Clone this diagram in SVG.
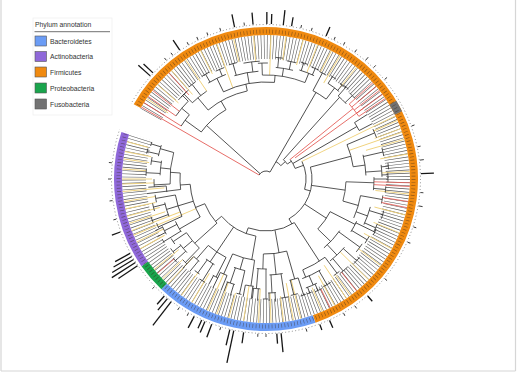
<svg xmlns="http://www.w3.org/2000/svg" width="518" height="373" viewBox="0 0 518 373">
<style>
.t line,.t circle{fill:none;stroke:#2b2b2b;stroke-width:.75}
.t .r{stroke:#e2504a}
.t .y{stroke:#f0d27c;stroke-width:.9}
.lg text{font-family:"Liberation Sans",Arial,sans-serif;font-size:6.8px;fill:#333}
.bars line{stroke:#151515;stroke-width:1.3}
.dots line{stroke:#333;stroke-width:.9}
.sw{stroke:#555;stroke-width:.6}
</style>
<rect width="518" height="373" fill="#fff"/>
<g id="frame" stroke="#d6d6d6" stroke-width="1.2" fill="none">
<line x1="1" y1="0" x2="1" y2="371"/><line x1="515.5" y1="0" x2="515.5" y2="371"/><line x1="1" y1="371" x2="515.5" y2="371"/>
</g>
<g id="rings" transform="translate(266,179)" fill="none">
<circle r="132" stroke="#3a3a3a" stroke-width="24" pathLength="360" stroke-dasharray="0.26 1.04" opacity=".85"/>
<circle r="148" stroke="#f08a10" stroke-width="8" pathLength="360" stroke-dasharray="221.5 720" transform="rotate(209.5)"/>
<circle r="148" stroke="#727272" stroke-width="8" pathLength="360" stroke-dasharray="4.5 720" transform="rotate(329)"/>
<circle r="148" stroke="#6b9cf5" stroke-width="8" pathLength="360" stroke-dasharray="62.5 720" transform="rotate(71)"/>
<circle r="148" stroke="#19a44c" stroke-width="8" pathLength="360" stroke-dasharray="11.5 720" transform="rotate(133.5)"/>
<circle r="148" stroke="#8f68d9" stroke-width="8" pathLength="360" stroke-dasharray="53 720" transform="rotate(145)"/>
<circle r="147.5" stroke="#3b2a1c" stroke-width="4" pathLength="360" stroke-dasharray="0.25 1" opacity=".55"/>
<circle r="154.5" stroke="#666" stroke-width=".8" pathLength="360" stroke-dasharray="0.35 0.9"/>
<circle r="137" stroke="#fff" stroke-width="42" pathLength="360" stroke-dasharray="10.6 720" transform="rotate(198.6)"/>
</g>
<g id="tree" class="t" transform="translate(266,179)">
<line class="y" x1="118" x2="144" transform="rotate(214)"/><line class="y" x1="116" x2="144" transform="rotate(221)"/><line class="y" x1="112" x2="144" transform="rotate(229)"/><line class="y" x1="106" x2="144" transform="rotate(236)"/><line class="y" x1="118" x2="144" transform="rotate(243)"/><line class="y" x1="97" x2="144" transform="rotate(250)"/><line class="y" x1="120" x2="144" transform="rotate(257)"/><line class="y" x1="118" x2="144" transform="rotate(265)"/><line class="y" x1="104" x2="144" transform="rotate(272)"/><line class="y" x1="120" x2="144" transform="rotate(278)"/><line class="y" x1="118" x2="144" transform="rotate(285)"/><line class="y" x1="114" x2="144" transform="rotate(291)"/><line class="y" x1="120" x2="144" transform="rotate(297)"/><line class="y" x1="112" x2="144" transform="rotate(301)"/><line class="y" x1="118" x2="144" transform="rotate(309)"/>
<line class="y" x1="40" x2="144" transform="rotate(334)"/><line class="y" x1="118" x2="144" transform="rotate(336)"/><line class="y" x1="116" x2="144" transform="rotate(339.5)"/><line class="y" x1="88" x2="144" transform="rotate(341)"/><line class="y" x1="104" x2="144" transform="rotate(344)"/><line class="y" x1="116" x2="144" transform="rotate(350)"/><line class="y" x1="116" x2="144" transform="rotate(357)"/><line class="y" x1="110" x2="144" transform="rotate(6)"/><line class="y" x1="112" x2="144" transform="rotate(14.5)"/><line class="y" x1="116" x2="144" transform="rotate(22)"/><line class="y" x1="112" x2="144" transform="rotate(29)"/><line class="y" x1="116" x2="144" transform="rotate(37)"/><line class="y" x1="104" x2="144" transform="rotate(44.5)"/><line class="y" x1="118" x2="144" transform="rotate(54)"/><line class="y" x1="104" x2="144" transform="rotate(56)"/><line class="y" x1="110" x2="144" transform="rotate(61.5)"/><line class="y" x1="118" x2="144" transform="rotate(67)"/>
<line class="y" x1="104" x2="144" transform="rotate(76)"/><line class="y" x1="106" x2="144" transform="rotate(79)"/><line class="y" x1="118" x2="144" transform="rotate(83)"/><line class="y" x1="114" x2="144" transform="rotate(88)"/><line class="y" x1="110" x2="144" transform="rotate(93)"/><line class="y" x1="108" x2="144" transform="rotate(99)"/><line class="y" x1="118" x2="144" transform="rotate(105)"/><line class="y" x1="110" x2="144" transform="rotate(110)"/><line class="y" x1="104" x2="144" transform="rotate(114)"/><line class="y" x1="110" x2="144" transform="rotate(121)"/><line class="y" x1="116" x2="144" transform="rotate(126)"/><line class="y" x1="106" x2="144" transform="rotate(133)"/><line class="y" x1="116" x2="144" transform="rotate(136)"/><line class="y" x1="112" x2="144" transform="rotate(141)"/>
<line class="y" x1="116" x2="144" transform="rotate(151)"/><line class="y" x1="114" x2="144" transform="rotate(154)"/><line class="y" x1="76" x2="144" transform="rotate(157)"/><line class="y" x1="92" x2="144" transform="rotate(159)"/><line class="y" x1="106" x2="144" transform="rotate(162)"/><line class="y" x1="110" x2="144" transform="rotate(165)"/><line class="y" x1="113" x2="144" transform="rotate(168)"/><line class="y" x1="112" x2="144" transform="rotate(171)"/><line class="y" x1="102" x2="144" transform="rotate(175)"/><line class="y" x1="112" x2="144" transform="rotate(178)"/><line class="y" x1="114" x2="144" transform="rotate(180)"/><line class="y" x1="120" x2="144" transform="rotate(184)"/><line class="y" x1="118" x2="144" transform="rotate(188)"/><line class="y" x1="117" x2="144" transform="rotate(191)"/><line class="y" x1="122" x2="144" transform="rotate(195)"/>
<circle r="8" pathLength="360" stroke-dasharray="90 720" transform="rotate(210)"/>
<line class="r" x1="8" x2="144" transform="rotate(210)"/>
<line x1="8" x2="80" transform="rotate(222)"/>
<line x1="8" x2="100" transform="rotate(300)"/>
<circle r="80" pathLength="360" stroke-dasharray="24 720" transform="rotate(216)"/>
<line x1="80" x2="100" transform="rotate(216)"/><circle r="100" pathLength="360" stroke-dasharray="8 720" transform="rotate(212)"/>
<line class="r" x1="100" x2="144" transform="rotate(212)"/>
<line x1="100" x2="110" transform="rotate(220)"/><circle r="110" pathLength="360" stroke-dasharray="10 720" transform="rotate(215)"/>
<line class="r" x1="110" x2="144" transform="rotate(215)"/><line class="r" x1="110" x2="144" transform="rotate(218)"/>
<line x1="110" x2="118" transform="rotate(225)"/><circle r="118" pathLength="360" stroke-dasharray="6 720" transform="rotate(222)"/>
<line x1="80" x2="90" transform="rotate(240)"/><circle r="90" pathLength="360" stroke-dasharray="28 720" transform="rotate(230)"/>
<line x1="90" x2="106" transform="rotate(230)"/><circle r="106" pathLength="360" stroke-dasharray="10 720" transform="rotate(226)"/>
<line x1="106" x2="118" transform="rotate(226)"/><circle r="118" pathLength="360" stroke-dasharray="5 720" transform="rotate(224)"/>
<line class="r" x1="114" x2="144" transform="rotate(227.5)"/>
<line x1="106" x2="120" transform="rotate(232)"/><circle r="120" pathLength="360" stroke-dasharray="4 720" transform="rotate(230)"/>
<line x1="90" x2="97" transform="rotate(258)"/><circle r="97" pathLength="360" stroke-dasharray="31 720" transform="rotate(244)"/>
<line x1="97" x2="112" transform="rotate(244)"/><circle r="112" pathLength="360" stroke-dasharray="10 720" transform="rotate(239)"/>
<line x1="112" x2="121" transform="rotate(240)"/><circle r="121" pathLength="360" stroke-dasharray="4 720" transform="rotate(238)"/>
<line x1="112" x2="119" transform="rotate(247)"/><circle r="119" pathLength="360" stroke-dasharray="4.5 720" transform="rotate(245)"/>
<line x1="97" x2="108" transform="rotate(260)"/><circle r="108" pathLength="360" stroke-dasharray="13 720" transform="rotate(253)"/>
<line x1="108" x2="120" transform="rotate(254)"/><circle r="120" pathLength="360" stroke-dasharray="4 720" transform="rotate(252)"/>
<line x1="108" x2="118" transform="rotate(263)"/><circle r="118" pathLength="360" stroke-dasharray="8 720" transform="rotate(259)"/>
<line x1="97" x2="104" transform="rotate(275)"/><circle r="104" pathLength="360" stroke-dasharray="24 720" transform="rotate(268)"/>
<line x1="104" x2="116" transform="rotate(268)"/><circle r="116" pathLength="360" stroke-dasharray="5 720" transform="rotate(266)"/>
<line x1="104" x2="112" transform="rotate(279)"/><circle r="112" pathLength="360" stroke-dasharray="9 720" transform="rotate(275)"/>
<line x1="112" x2="122" transform="rotate(276)"/><circle r="122" pathLength="360" stroke-dasharray="3.5 720" transform="rotate(274.5)"/>
<line x1="112" x2="120" transform="rotate(282)"/><circle r="120" pathLength="360" stroke-dasharray="4.5 720" transform="rotate(280)"/>
<line x1="104" x2="114" transform="rotate(292)"/><circle r="114" pathLength="360" stroke-dasharray="8 720" transform="rotate(287)"/>
<line x1="114" x2="122" transform="rotate(288)"/><circle r="122" pathLength="360" stroke-dasharray="3.5 720" transform="rotate(286.5)"/>
<line x1="114" x2="121" transform="rotate(294)"/><circle r="121" pathLength="360" stroke-dasharray="4 720" transform="rotate(292)"/>
<circle r="20" pathLength="360" stroke-dasharray="18 720" transform="rotate(300)"/>
<circle r="100" pathLength="360" stroke-dasharray="9 720" transform="rotate(298)"/>
<line x1="100" x2="120" transform="rotate(298)"/><circle r="120" pathLength="360" stroke-dasharray="3.5 720" transform="rotate(296.5)"/>
<line x1="100" x2="114" transform="rotate(307)"/><circle r="114" pathLength="360" stroke-dasharray="7 720" transform="rotate(303)"/>
<line x1="114" x2="122" transform="rotate(303)"/><circle r="122" pathLength="360" stroke-dasharray="3 720" transform="rotate(302)"/>
<line x1="114" x2="121" transform="rotate(309)"/><circle r="121" pathLength="360" stroke-dasharray="3.5 720" transform="rotate(307.5)"/>
<line x1="20" x2="26" transform="rotate(318)"/><circle r="26" pathLength="360" stroke-dasharray="13 720" transform="rotate(312)"/>
<line x1="26" x2="110" transform="rotate(312)"/><circle r="110" pathLength="360" stroke-dasharray="6 720" transform="rotate(311)"/>
<line x1="110" x2="122" transform="rotate(311)"/><circle r="122" pathLength="360" stroke-dasharray="2.5 720" transform="rotate(310)"/>
<line x1="110" x2="120" transform="rotate(316)"/><circle r="120" pathLength="360" stroke-dasharray="4 720" transform="rotate(314)"/>
<line x1="26" x2="31" transform="rotate(325)"/><circle r="31" pathLength="360" stroke-dasharray="19 720" transform="rotate(321)"/>
<line class="r" x1="31" x2="112" transform="rotate(321)"/><circle class="r" r="112" pathLength="360" stroke-dasharray="8 720" transform="rotate(318)"/>
<line class="r" x1="36" x2="120" transform="rotate(324)"/>
<line class="r" x1="112" x2="144" transform="rotate(318)"/><line class="r" x1="112" x2="144" transform="rotate(320)"/><line class="r" x1="112" x2="144" transform="rotate(322)"/><line class="r" x1="112" x2="144" transform="rotate(324)"/><line class="r" x1="112" x2="144" transform="rotate(326)"/>
<line x1="31" x2="105" transform="rotate(330)"/><circle r="105" pathLength="360" stroke-dasharray="5 720" transform="rotate(327.5)"/>
<line x1="105" x2="120" transform="rotate(327.5)"/><line x1="105" x2="120" transform="rotate(332.5)"/>
<line x1="31" x2="40" transform="rotate(340)"/>
<circle r="40" pathLength="360" stroke-dasharray="41 720" transform="rotate(334)"/>
<line x1="40" x2="46" transform="rotate(15)"/>
<circle r="46" pathLength="360" stroke-dasharray="75 720" transform="rotate(345)"/>
<line x1="46" x2="88" transform="rotate(345)"/><circle r="88" pathLength="360" stroke-dasharray="15 720" transform="rotate(337)"/>
<line x1="88" x2="118" transform="rotate(337)"/><circle r="118" pathLength="360" stroke-dasharray="4.5 720" transform="rotate(335)"/>
<line x1="88" x2="100" transform="rotate(352)"/><circle r="100" pathLength="360" stroke-dasharray="12 720" transform="rotate(346)"/>
<line x1="100" x2="120" transform="rotate(347)"/><circle r="120" pathLength="360" stroke-dasharray="4 720" transform="rotate(345)"/>
<line x1="100" x2="116" transform="rotate(356)"/><circle r="116" pathLength="360" stroke-dasharray="6 720" transform="rotate(353)"/>
<line x1="116" x2="123" transform="rotate(354)"/><circle r="123" pathLength="360" stroke-dasharray="3 720" transform="rotate(352.5)"/>
<line x1="116" x2="122" transform="rotate(358)"/><circle r="122" pathLength="360" stroke-dasharray="2.5 720" transform="rotate(357)"/>
<line x1="46" x2="80" transform="rotate(8)"/><circle r="80" pathLength="360" stroke-dasharray="14 720" transform="rotate(2)"/>
<line x1="80" x2="108" transform="rotate(2)"/><circle r="108" pathLength="360" stroke-dasharray="7 720" transform="rotate(359)"/>
<line x1="108" x2="122" transform="rotate(0)"/><circle r="122" pathLength="360" stroke-dasharray="2.5 720" transform="rotate(359)"/>
<line x1="108" x2="120" transform="rotate(365)"/><circle r="120" pathLength="360" stroke-dasharray="3 720" transform="rotate(363.5)"/>
<line class="r" x1="108" x2="144" transform="rotate(1.5)"/><line class="r" x1="108" x2="144" transform="rotate(3)"/>
<line x1="80" x2="96" transform="rotate(16)"/><circle r="96" pathLength="360" stroke-dasharray="14 720" transform="rotate(10)"/>
<line x1="96" x2="118" transform="rotate(10)"/><circle r="118" pathLength="360" stroke-dasharray="4 720" transform="rotate(8)"/>
<line class="r" x1="118" x2="144" transform="rotate(9)"/><line class="r" x1="118" x2="144" transform="rotate(11.5)"/>
<line x1="96" x2="108" transform="rotate(20)"/><circle r="108" pathLength="360" stroke-dasharray="10 720" transform="rotate(15)"/>
<line x1="108" x2="122" transform="rotate(17)"/><circle r="122" pathLength="360" stroke-dasharray="4 720" transform="rotate(15)"/>
<line x1="108" x2="120" transform="rotate(24)"/><circle r="120" pathLength="360" stroke-dasharray="4 720" transform="rotate(22)"/>
<line x1="46" x2="72" transform="rotate(33)"/><circle r="72" pathLength="360" stroke-dasharray="17 720" transform="rotate(27)"/>
<line x1="72" x2="100" transform="rotate(27)"/><circle r="100" pathLength="360" stroke-dasharray="7 720" transform="rotate(25)"/>
<line x1="100" x2="121" transform="rotate(26)"/><circle r="121" pathLength="360" stroke-dasharray="3 720" transform="rotate(24.5)"/>
<line x1="100" x2="118" transform="rotate(31)"/><circle r="118" pathLength="360" stroke-dasharray="4 720" transform="rotate(29)"/>
<line x1="72" x2="90" transform="rotate(44)"/><circle r="90" pathLength="360" stroke-dasharray="15 720" transform="rotate(35)"/>
<line x1="90" x2="116" transform="rotate(36)"/><circle r="116" pathLength="360" stroke-dasharray="5 720" transform="rotate(34)"/>
<line x1="90" x2="104" transform="rotate(47)"/><circle r="104" pathLength="360" stroke-dasharray="11 720" transform="rotate(41)"/>
<line x1="104" x2="122" transform="rotate(42)"/><circle r="122" pathLength="360" stroke-dasharray="4 720" transform="rotate(40)"/>
<line x1="104" x2="120" transform="rotate(50)"/><circle r="120" pathLength="360" stroke-dasharray="5 720" transform="rotate(47)"/>
<line class="r" x1="120" x2="144" transform="rotate(51)"/>
<line x1="46" x2="52" transform="rotate(60)"/>
<circle r="52" pathLength="360" stroke-dasharray="53 720" transform="rotate(57)"/>
<line x1="52" x2="98" transform="rotate(57)"/><circle r="98" pathLength="360" stroke-dasharray="15 720" transform="rotate(53)"/>
<line x1="98" x2="118" transform="rotate(53)"/><circle r="118" pathLength="360" stroke-dasharray="3.5 720" transform="rotate(51.5)"/>
<line x1="98" x2="106" transform="rotate(68)"/><circle r="106" pathLength="360" stroke-dasharray="11 720" transform="rotate(59)"/>
<line x1="106" x2="122" transform="rotate(60)"/><circle r="122" pathLength="360" stroke-dasharray="4 720" transform="rotate(58)"/>
<line x1="106" x2="116" transform="rotate(66)"/><circle r="116" pathLength="360" stroke-dasharray="6 720" transform="rotate(64)"/>
<line x1="116" x2="123" transform="rotate(65)"/><circle r="123" pathLength="360" stroke-dasharray="3.5 720" transform="rotate(63)"/>
<line x1="116" x2="122" transform="rotate(69)"/><circle r="122" pathLength="360" stroke-dasharray="2.5 720" transform="rotate(68)"/>
<line class="r" x1="123" x2="144" transform="rotate(63.5)"/>
<line x1="52" x2="75" transform="rotate(80)"/><circle r="75" pathLength="360" stroke-dasharray="18 720" transform="rotate(74)"/>
<line x1="75" x2="104" transform="rotate(74)"/><circle r="104" pathLength="360" stroke-dasharray="5 720" transform="rotate(72)"/>
<line x1="104" x2="122" transform="rotate(72)"/><circle r="122" pathLength="360" stroke-dasharray="2.5 720" transform="rotate(71)"/>
<line x1="104" x2="119" transform="rotate(76.5)"/><circle r="119" pathLength="360" stroke-dasharray="3.5 720" transform="rotate(74.5)"/>
<line x1="75" x2="96" transform="rotate(84)"/><circle r="96" pathLength="360" stroke-dasharray="8 720" transform="rotate(80)"/>
<line x1="96" x2="120" transform="rotate(81)"/><circle r="120" pathLength="360" stroke-dasharray="4 720" transform="rotate(79)"/>
<line x1="96" x2="114" transform="rotate(87)"/><circle r="114" pathLength="360" stroke-dasharray="4 720" transform="rotate(85)"/>
<line x1="114" x2="123" transform="rotate(85.5)"/><line x1="114" x2="122" transform="rotate(88.5)"/>
<line x1="75" x2="90" transform="rotate(92)"/><circle r="90" pathLength="360" stroke-dasharray="6.5 720" transform="rotate(89.5)"/>
<line x1="90" x2="120" transform="rotate(90)"/><circle r="120" pathLength="360" stroke-dasharray="2.5 720" transform="rotate(89)"/>
<line x1="90" x2="110" transform="rotate(95)"/><circle r="110" pathLength="360" stroke-dasharray="4 720" transform="rotate(93)"/>
<line x1="110" x2="122" transform="rotate(94)"/><line x1="110" x2="120" transform="rotate(96.5)"/>
<line x1="52" x2="58" transform="rotate(110)"/>
<circle r="58" pathLength="360" stroke-dasharray="40 720" transform="rotate(100)"/>
<line x1="58" x2="82" transform="rotate(100)"/><circle r="82" pathLength="360" stroke-dasharray="16 720" transform="rotate(98)"/>
<line x1="82" x2="108" transform="rotate(98)"/><circle r="108" pathLength="360" stroke-dasharray="4.5 720" transform="rotate(96.5)"/>
<line x1="108" x2="121" transform="rotate(97)"/><line x1="108" x2="120" transform="rotate(101)"/>
<line x1="82" x2="94" transform="rotate(106)"/><circle r="94" pathLength="360" stroke-dasharray="7 720" transform="rotate(103)"/>
<line x1="94" x2="118" transform="rotate(103)"/><circle r="118" pathLength="360" stroke-dasharray="2.5 720" transform="rotate(102)"/>
<line x1="94" x2="110" transform="rotate(109)"/><circle r="110" pathLength="360" stroke-dasharray="4.5 720" transform="rotate(106.5)"/>
<line x1="110" x2="122" transform="rotate(107)"/><line x1="110" x2="120" transform="rotate(110.5)"/>
<line x1="82" x2="104" transform="rotate(114)"/><circle r="104" pathLength="360" stroke-dasharray="4 720" transform="rotate(112)"/>
<line x1="104" x2="120" transform="rotate(112)"/><line x1="104" x2="121" transform="rotate(116)"/>
<line x1="58" x2="88" transform="rotate(124)"/><circle r="88" pathLength="360" stroke-dasharray="14 720" transform="rotate(117)"/>
<line x1="88" x2="110" transform="rotate(117)"/><circle r="110" pathLength="360" stroke-dasharray="3 720" transform="rotate(116)"/>
<line x1="110" x2="120" transform="rotate(118.5)"/>
<line x1="88" x2="100" transform="rotate(124)"/><circle r="100" pathLength="360" stroke-dasharray="6 720" transform="rotate(121)"/>
<line x1="100" x2="120" transform="rotate(122)"/><circle r="120" pathLength="360" stroke-dasharray="3 720" transform="rotate(120.5)"/>
<line x1="100" x2="116" transform="rotate(126)"/><circle r="116" pathLength="360" stroke-dasharray="3 720" transform="rotate(125)"/>
<line x1="88" x2="106" transform="rotate(131)"/><circle r="106" pathLength="360" stroke-dasharray="4 720" transform="rotate(129)"/>
<line x1="106" x2="120" transform="rotate(129.5)"/><line x1="106" x2="122" transform="rotate(133)"/>
<line x1="58" x2="66" transform="rotate(140)"/>
<circle r="66" pathLength="360" stroke-dasharray="20 720" transform="rotate(138)"/>
<line x1="66" x2="96" transform="rotate(138)"/><circle r="96" pathLength="360" stroke-dasharray="12 720" transform="rotate(134)"/>
<line x1="96" x2="116" transform="rotate(134)"/><circle r="116" pathLength="360" stroke-dasharray="3 720" transform="rotate(133)"/>
<line x1="96" x2="108" transform="rotate(140)"/><circle r="108" pathLength="360" stroke-dasharray="6 720" transform="rotate(137)"/>
<line x1="108" x2="122" transform="rotate(138)"/><circle r="122" pathLength="360" stroke-dasharray="2.5 720" transform="rotate(137)"/>
<line class="r" x1="122" x2="144" transform="rotate(139)"/>
<line x1="108" x2="118" transform="rotate(142)"/><circle r="118" pathLength="360" stroke-dasharray="3 720" transform="rotate(141)"/>
<line x1="96" x2="112" transform="rotate(146)"/><circle r="112" pathLength="360" stroke-dasharray="3.5 720" transform="rotate(144.5)"/>
<line x1="66" x2="76" transform="rotate(158)"/>
<circle r="76" pathLength="360" stroke-dasharray="26 720" transform="rotate(150)"/>
<line x1="76" x2="100" transform="rotate(150)"/><circle r="100" pathLength="360" stroke-dasharray="7 720" transform="rotate(148)"/>
<line x1="100" x2="120" transform="rotate(148.5)"/><circle r="120" pathLength="360" stroke-dasharray="2 720" transform="rotate(148)"/>
<line x1="100" x2="114" transform="rotate(153)"/><circle r="114" pathLength="360" stroke-dasharray="4.5 720" transform="rotate(151)"/>
<line x1="114" x2="123" transform="rotate(152)"/><line x1="114" x2="122" transform="rotate(155)"/>
<line x1="76" x2="92" transform="rotate(163)"/><circle r="92" pathLength="360" stroke-dasharray="14 720" transform="rotate(156)"/>
<line x1="92" x2="118" transform="rotate(156)"/><circle r="118" pathLength="360" stroke-dasharray="2.5 720" transform="rotate(155.5)"/>
<line x1="92" x2="104" transform="rotate(163)"/><circle r="104" pathLength="360" stroke-dasharray="8 720" transform="rotate(159)"/>
<line x1="104" x2="121" transform="rotate(160)"/><circle r="121" pathLength="360" stroke-dasharray="2.5 720" transform="rotate(159)"/>
<line x1="104" x2="116" transform="rotate(166)"/><circle r="116" pathLength="360" stroke-dasharray="4 720" transform="rotate(164)"/>
<line x1="92" x2="112" transform="rotate(170)"/><circle r="112" pathLength="360" stroke-dasharray="4 720" transform="rotate(168)"/>
<line x1="76" x2="86" transform="rotate(176)"/><circle r="86" pathLength="360" stroke-dasharray="11 720" transform="rotate(173)"/>
<line x1="86" x2="100" transform="rotate(173)"/><circle r="100" pathLength="360" stroke-dasharray="3.5 720" transform="rotate(172.5)"/>
<line x1="100" x2="120" transform="rotate(173)"/><line x1="100" x2="118" transform="rotate(176)"/>
<line x1="86" x2="96" transform="rotate(184)"/><circle r="96" pathLength="360" stroke-dasharray="19 720" transform="rotate(177)"/>
<line x1="96" x2="112" transform="rotate(177)"/><circle r="112" pathLength="360" stroke-dasharray="4 720" transform="rotate(176)"/>
<line x1="96" x2="106" transform="rotate(186)"/><circle r="106" pathLength="360" stroke-dasharray="8 720" transform="rotate(182)"/>
<line x1="106" x2="120" transform="rotate(183)"/><circle r="120" pathLength="360" stroke-dasharray="3.5 720" transform="rotate(181.5)"/>
<line x1="106" x2="116" transform="rotate(189)"/><circle r="116" pathLength="360" stroke-dasharray="4 720" transform="rotate(187)"/>
<line x1="96" x2="110" transform="rotate(196)"/><circle r="110" pathLength="360" stroke-dasharray="6 720" transform="rotate(192)"/>
<line x1="110" x2="122" transform="rotate(193)"/><circle r="122" pathLength="360" stroke-dasharray="2.5 720" transform="rotate(192)"/>
<line x1="110" x2="120" transform="rotate(197)"/><circle r="120" pathLength="360" stroke-dasharray="2 720" transform="rotate(196)"/>
</g>
<g id="bars" class="bars" transform="translate(266,179)">
<line x1="155" x2="171" transform="rotate(221.7)"/><line x1="155" x2="168" transform="rotate(223.2)"/><line x1="155" x2="167" transform="rotate(236.2)"/><line x1="155" x2="168" transform="rotate(258.3)"/><line x1="155" x2="167" transform="rotate(265.2)"/><line x1="155" x2="167" transform="rotate(270.3)"/><line x1="155" x2="165" transform="rotate(272)"/><line x1="155" x2="170" transform="rotate(276.4)"/><line x1="155" x2="164" transform="rotate(279.5)"/><line x1="155" x2="165" transform="rotate(292.8)"/><line x1="155" x2="168" transform="rotate(358)"/><line x1="155" x2="162" transform="rotate(49)"/><line x1="155" x2="163" transform="rotate(65.8)"/><line x1="155" x2="161" transform="rotate(69.7)"/><line x1="155" x2="174" transform="rotate(84.4)"/><line x1="155" x2="165" transform="rotate(86)"/><line x1="155" x2="166" transform="rotate(98.3)"/><line x1="155" x2="188" transform="rotate(102)"/><line x1="155" x2="171" transform="rotate(103.5)"/><line x1="155" x2="169" transform="rotate(110.5)"/><line x1="155" x2="167" transform="rotate(113.2)"/><line x1="155" x2="164" transform="rotate(114.5)"/><line x1="155" x2="168" transform="rotate(117.6)"/><line x1="155" x2="185" transform="rotate(127.7)"/><line x1="155" x2="170" transform="rotate(129.5)"/><line x1="155" x2="166" transform="rotate(131)"/><line x1="155" x2="178" transform="rotate(146)"/><line x1="155" x2="183" transform="rotate(147.4)"/><line x1="155" x2="180" transform="rotate(148.7)"/><line x1="155" x2="176" transform="rotate(150)"/><line x1="155" x2="172" transform="rotate(151.3)"/><line x1="155" x2="164" transform="rotate(160)"/>
</g>
<g id="dots" class="dots" transform="translate(266,179)">
<line x1="155" x2="158" transform="rotate(230)"/><line x1="155" x2="158" transform="rotate(233)"/><line x1="155" x2="158" transform="rotate(240)"/><line x1="155" x2="158" transform="rotate(244)"/><line x1="155" x2="158" transform="rotate(248)"/><line x1="155" x2="158" transform="rotate(253)"/><line x1="155" x2="158" transform="rotate(262)"/><line x1="155" x2="158" transform="rotate(283)"/><line x1="155" x2="158" transform="rotate(287)"/><line x1="155" x2="158" transform="rotate(296)"/><line x1="155" x2="158" transform="rotate(300)"/><line x1="155" x2="158" transform="rotate(305)"/><line x1="155" x2="159" transform="rotate(310)"/><line x1="155" x2="158" transform="rotate(314)"/><line x1="155" x2="158" transform="rotate(320)"/><line x1="155" x2="158" transform="rotate(340)"/><line x1="155" x2="158" transform="rotate(348)"/><line x1="155" x2="159" transform="rotate(353)"/><line x1="155" x2="158" transform="rotate(5)"/><line x1="155" x2="159" transform="rotate(10)"/><line x1="155" x2="158" transform="rotate(18)"/><line x1="155" x2="158" transform="rotate(24)"/><line x1="155" x2="158" transform="rotate(40)"/><line x1="155" x2="158" transform="rotate(55)"/><line x1="155" x2="158" transform="rotate(60)"/><line x1="155" x2="158" transform="rotate(75)"/><line x1="155" x2="158" transform="rotate(90)"/><line x1="155" x2="158" transform="rotate(93)"/><line x1="155" x2="158" transform="rotate(107)"/><line x1="155" x2="158" transform="rotate(120)"/><line x1="155" x2="158" transform="rotate(124)"/><line x1="155" x2="158" transform="rotate(136)"/><line x1="155" x2="158" transform="rotate(165)"/><line x1="155" x2="158" transform="rotate(172)"/><line x1="155" x2="158" transform="rotate(180)"/><line x1="155" x2="158" transform="rotate(186)"/>
</g>
<g id="legend" class="lg">
<rect x="33" y="18" width="79" height="97" fill="#fff" stroke="#f0f0f0" stroke-width=".8"/>
<text x="35" y="26.5">Phylum annotation</text>
<line x1="34.5" y1="31.7" x2="110" y2="31.7" stroke="#333" stroke-width=".7"/>
<g id="lg-bacteroidetes"><rect class="sw" x="35" y="36" width="11.5" height="10" fill="#6b9cf5"/><text x="50" y="43.5">Bacteroidetes</text></g>
<g id="lg-actinobacteria"><rect class="sw" x="35" y="51.5" width="11.5" height="10" fill="#8f68d9"/><text x="50" y="59">Actinobacteria</text></g>
<g id="lg-firmicutes"><rect class="sw" x="35" y="67" width="11.5" height="10" fill="#f08a10"/><text x="50" y="74.5">Firmicutes</text></g>
<g id="lg-proteobacteria"><rect class="sw" x="35" y="83" width="11.5" height="10" fill="#19a44c"/><text x="50" y="90.5">Proteobacteria</text></g>
<g id="lg-fusobacteria"><rect class="sw" x="35" y="99" width="11.5" height="10" fill="#727272"/><text x="50" y="106.5">Fusobacteria</text></g>
</g>
</svg>
